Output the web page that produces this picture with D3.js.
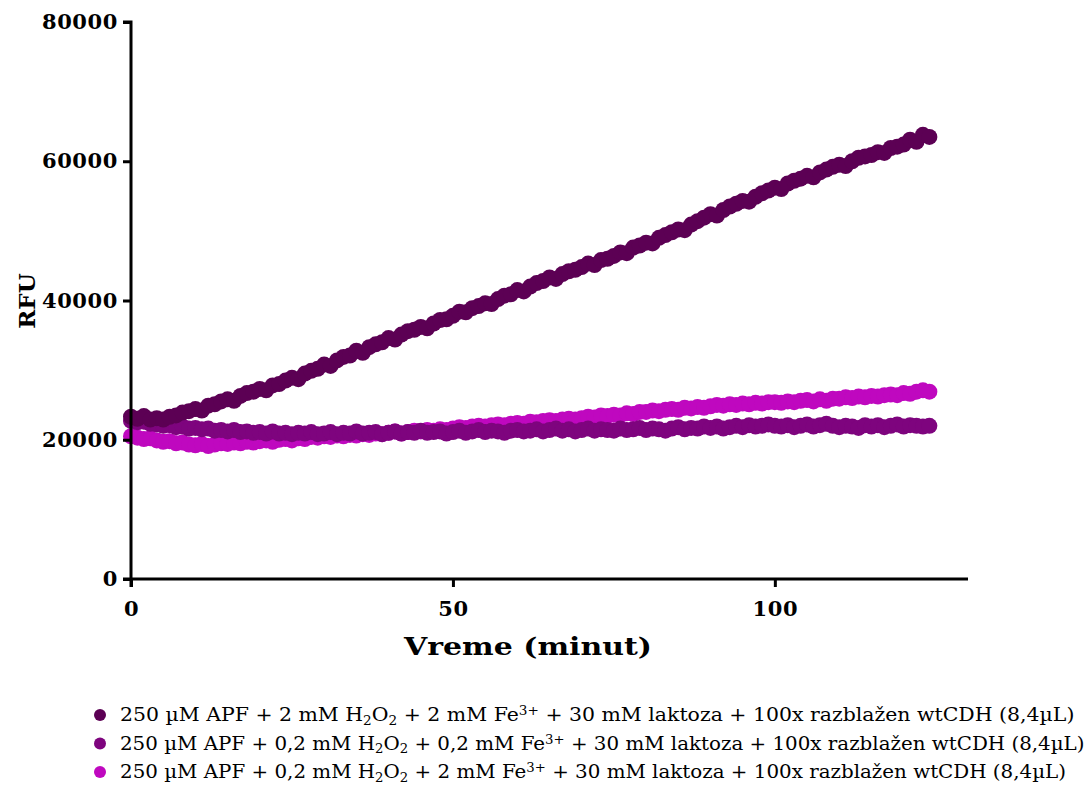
<!DOCTYPE html>
<html>
<head>
<meta charset="utf-8">
<script src="https://cdn.jsdelivr.net/npm/d3@7"></script>
<style>
  body { margin: 0; background: #fff; }
  svg { font-family: "DejaVu Serif", "Liberation Serif", serif; }
</style>
</head>
<body>
<svg id="chart" width="1089" height="803"></svg>
<script>
// minutes 0..124, one reading per minute
var times = d3.range(0, 125);

var seriesHigh = [
  23300, 23000, 23400, 22900, 23100, 22900, 23300, 23500, 23900, 24100,
  24400, 24200, 24900, 25100, 25500, 25800, 25600, 26300, 26700, 26900,
  27300, 27100, 27800, 28000, 28500, 28900, 28700, 29500, 29900, 30200,
  30800, 30600, 31400, 31900, 32100, 32800, 32500, 33300, 33700, 34000,
  34600, 34400, 35100, 35600, 35800, 36200, 36000, 36700, 37200, 37300,
  37800, 38400, 38300, 38900, 39200, 39600, 39500, 40200, 40700, 40900,
  41500, 41300, 42000, 42500, 42800, 43300, 43100, 43800, 44200, 44400,
  44800, 45300, 45100, 45800, 46000, 46400, 46900, 46800, 47600, 47900,
  48300, 48200, 49000, 49400, 49800, 50200, 50100, 50900, 51400, 51900,
  52400, 52200, 53000, 53500, 53900, 54300, 54200, 54900, 55400, 55800,
  56200, 56000, 56800, 57200, 57500, 57900, 57700, 58400, 58800, 59200,
  59500, 59300, 60000, 60500, 60700, 60900, 61300, 61200, 61900, 62100,
  62400, 63100, 62800, 63800, 63500
];

var seriesLow = [
  22700, 22500, 22600, 22300, 22200, 22000, 22100, 21800, 21900, 21600,
  21700, 21500, 21600, 21300, 21400, 21200, 21400, 21100, 21200, 21000,
  21100, 20900, 21200, 20900, 21000, 20800, 21000, 20900, 21100, 20800,
  20900, 21100, 20800, 21000, 20900, 21200, 20900, 21000, 21100, 20800,
  21000, 21200, 20900, 21100, 21000, 21300, 21000, 21100, 21200, 20900,
  21100, 21300, 21000, 21200, 21400, 21100, 21300, 21200, 21000, 21300,
  21400, 21200, 21300, 21500, 21200, 21400, 21600, 21300, 21500, 21200,
  21400, 21600, 21300, 21500, 21400, 21300, 21600, 21400, 21500, 21700,
  21400, 21600, 21500, 21300, 21600, 21800, 21500, 21700, 21600, 21900,
  21700, 21900, 21600, 21800, 22000, 21800, 22100, 21900, 22000, 22200,
  22000, 21900, 22100, 21800, 22000, 22200, 21900, 22100, 22300, 22000,
  21800, 22000, 21900, 21700, 22100, 21900, 22100, 21800, 22000, 22200,
  21900, 22100, 22000, 21900, 22000
];

var seriesMid = [
  20500, 20300, 20100, 20200, 19900, 19700, 19800, 19500, 19600, 19300,
  19200, 19400, 19100, 19300, 19500, 19400, 19600, 19500, 19700, 19600,
  19800, 19900, 19700, 20000, 20100, 19900, 20200, 20100, 20400, 20300,
  20500, 20400, 20600, 20500, 20700, 20600, 20800, 20700, 20900, 20800,
  21000, 21200, 20900, 21100, 21300, 21200, 21400, 21300, 21500, 21400,
  21600, 21800, 21700, 21900, 22000, 21900, 22100, 22200, 22100, 22300,
  22400, 22300, 22600, 22500, 22700, 22800, 22700, 22900, 23000, 22900,
  23100, 23300, 23200, 23500, 23400, 23600, 23500, 23800, 23700, 24000,
  24000, 24200, 24100, 24300, 24400, 24300, 24600, 24500, 24700, 24600,
  24800, 25000, 24900, 25100, 25000, 25200, 25100, 25300, 25200, 25400,
  25400, 25300, 25500, 25400, 25600, 25700, 25500, 25800, 25600, 25900,
  25900, 26100, 26000, 26200, 26100, 26300, 26200, 26400, 26500, 26400,
  26700, 26600, 26900, 27100, 26900
];

var xTicks = [0, 50, 100];
var yTicks = [0, 20000, 40000, 60000, 80000];

var seriesList = [
  { values: seriesMid, color: "#bf08bf" },
  { values: seriesLow, color: "#7e047e" },
  { values: seriesHigh, color: "#5c0054" }
];

// legend rows, in display order; parts: [text, "sub"|"sup"|null]
var legendRows = [
  { color: "#5c0054", parts: [["250 µM APF + 2 mM H"], ["2", "sub"], ["O"], ["2", "sub"], [" + 2 mM Fe"], ["3+", "sup"], [" + 30 mM laktoza + 100x razblažen wtCDH (8,4µL)"]] },
  { color: "#7e047e", parts: [["250 µM APF + 0,2 mM H"], ["2", "sub"], ["O"], ["2", "sub"], [" + 0,2 mM Fe"], ["3+", "sup"], [" + 30 mM laktoza + 100x razblažen wtCDH (8,4µL)"]] },
  { color: "#bf08bf", parts: [["250 µM APF + 0,2 mM H"], ["2", "sub"], ["O"], ["2", "sub"], [" + 2 mM Fe"], ["3+", "sup"], [" + 30 mM laktoza + 100x razblažen wtCDH (8,4µL)"]] }
];
var legendWidths = [955, 965, 947];

var svg = d3.select("#chart");
var margin = { left: 131, right: 121, top: 22, bottom: 224 };
var width = 1089 - margin.left - margin.right;
var height = 803 - margin.top - margin.bottom;

var x = d3.scaleLinear().domain([0, 130]).range([0, width]);
var y = d3.scaleLinear().domain([0, 80000]).range([height, 0]);

// widen a text to its reference width by stretching the glyphs
function stretchX(sel, tx, ty, target) {
  var w = sel.node().getComputedTextLength();
  sel.attr("x", 0).attr("y", 0)
    .attr("transform", "translate(" + tx + "," + ty + ") scale(" + (target / w).toFixed(3) + ",1)");
}

var g = svg.append("g").attr("transform", "translate(" + margin.left + "," + margin.top + ")");

// points
seriesList.forEach(function (s) {
  g.append("g").selectAll("circle")
    .data(s.values)
    .enter().append("circle")
    .attr("cx", function (d, i) { return x(times[i]); })
    .attr("cy", function (d) { return y(d); })
    .attr("r", 8)
    .attr("fill", s.color);
});

// axes
var yAxis = g.append("g")
  .call(d3.axisLeft(y).tickValues(yTicks).tickFormat(d3.format("d")).tickSize(8).tickPadding(5));
var xAxis = g.append("g")
  .attr("transform", "translate(0," + height + ")")
  .call(d3.axisBottom(x).tickValues(xTicks).tickSize(8).tickPadding(14));

[xAxis, yAxis].forEach(function (a) {
  a.select(".domain").attr("stroke", "#000").attr("stroke-width", 3);
  a.selectAll(".tick line").attr("stroke", "#000").attr("stroke-width", 3);
  a.selectAll(".tick text")
    .attr("fill", "#000")
    .attr("font-family", "DejaVu Serif, serif")
    .attr("font-weight", "bold")
    .attr("font-size", 21)
    .attr("letter-spacing", 0.6);
});
yAxis.select(".domain").attr("d", "M0," + (height + 8) + "V0H-8");
xAxis.select(".domain").attr("d", "M-8,0H" + width);

// axis titles
var xTitle = svg.append("text")
  .attr("text-anchor", "middle")
  .attr("font-weight", "bold")
  .attr("font-size", 25)
  .text("Vreme (minut)");
stretchX(xTitle, 528, 655, 248);

var yTitle = svg.append("text")
  .attr("transform", "translate(35,301) rotate(-90)")
  .attr("text-anchor", "middle")
  .attr("font-weight", "bold")
  .attr("font-size", 23)
  .text("RFU");

// legend
var legend = svg.append("g");
legendRows.forEach(function (row, i) {
  var ly = 715 + i * 28.5;
  legend.append("circle").attr("cx", 100).attr("cy", ly).attr("r", 6).attr("fill", row.color);
  var t = legend.append("text")
    .attr("font-size", 18)
    .attr("fill", "#000");
  row.parts.forEach(function (p) {
    var ts = t.append("tspan").text(p[0]);
    if (p[1] === "sub") ts.attr("font-size", 12).attr("baseline-shift", "-4");
    if (p[1] === "sup") ts.attr("font-size", 12).attr("baseline-shift", "6");
  });
  stretchX(t, 120, ly + 6, legendWidths[i]);
});
</script>
</body>
</html>
